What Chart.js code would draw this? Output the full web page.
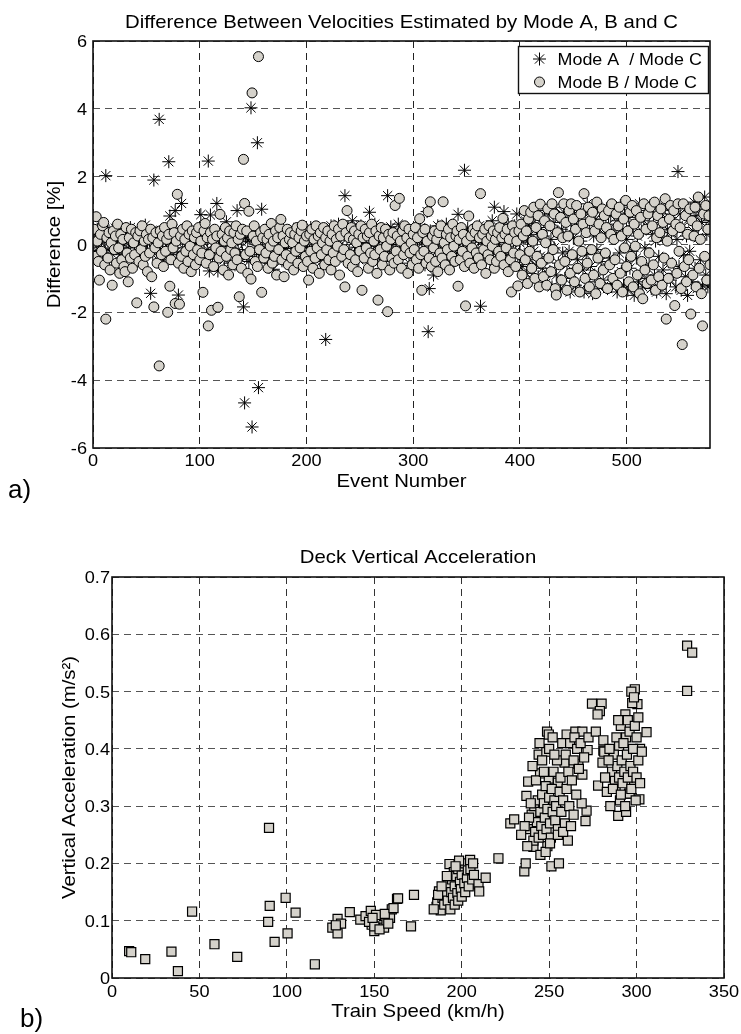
<!DOCTYPE html>
<html>
<head>
<meta charset="utf-8">
<title>Velocity differences and deck acceleration</title>
<script src="https://cdn.jsdelivr.net/npm/chart.js@4/dist/chart.umd.min.js"></script>
<style>
  html, body { margin: 0; padding: 0; background: #fff; }
  #wrap { position: relative; width: 741px; height: 1034px; overflow: hidden; }
  canvas { position: absolute; left: 0; }
  #cA { top: 0; }
  #cB { top: 520px; }
</style>
</head>
<body>
<div id="wrap">
  <canvas id="cA" width="741" height="520"></canvas>
  <canvas id="cB" width="741" height="514"></canvas>
</div>
<script>
// ---------- a) velocity differences per event (%), events 1..578 ----------
const ratioAC = [
  0.30,0.12,-0.18,0.45,0.22,-0.08,0.35,0.05,-0.28,0.50,0.15,2.03,0.25,-0.15,0.40,0.10,-0.25,0.30,0.02,0.20,
  0.48,-0.12,0.18,0.35,-0.30,0.08,0.42,0.15,-0.20,0.28,0.05,0.38,-0.10,0.22,0.50,-0.35,0.12,0.30,0.00,0.25,
  0.15,-0.22,0.40,0.10,-0.05,0.33,-0.40,0.20,0.57,0.05,-0.18,0.30,0.12,-1.44,0.25,-0.30,1.90,0.08,0.35,-0.12,
  0.20,3.69,-0.25,0.42,0.10,-0.45,0.28,0.05,-0.15,0.38,2.44,0.84,0.18,-0.30,0.45,0.02,1.00,-0.20,0.30,-1.49,
  0.25,0.40,1.21,-0.10,0.32,0.15,-0.35,0.22,0.05,0.38,-0.18,0.28,0.10,-0.42,0.35,0.00,0.20,-0.25,0.30,0.12,
  0.88,-0.30,0.18,0.05,-0.50,0.25,-0.15,2.46,-0.78,0.87,0.10,-0.40,0.30,-0.10,0.20,1.21,-0.78,0.15,-0.25,0.35,
  -0.05,0.22,-0.45,0.10,0.67,-0.20,0.30,-0.55,0.05,0.25,-0.30,0.15,-0.60,0.20,1.00,-0.15,0.28,-0.40,0.08,-0.25,
  -1.84,-4.67,0.20,-0.35,0.10,-0.50,0.30,4.03,-5.38,0.15,-0.20,0.40,-0.45,3.00,-4.22,0.05,-0.30,1.04,-0.10,0.25,
  -0.40,0.18,-0.15,0.30,-0.55,0.08,0.35,-0.25,-0.73,0.20,-0.05,0.42,-0.35,0.12,-0.20,0.30,-0.48,0.05,0.25,-0.12,
  0.38,-0.30,0.10,-0.45,0.22,0.00,-0.20,0.45,-0.35,0.15,-0.10,0.30,-0.55,0.05,0.25,-0.28,0.40,-0.05,0.18,-0.40,
  0.10,0.35,-0.22,0.50,-0.10,0.20,-0.42,0.30,0.05,-0.30,0.45,-0.15,0.25,-0.50,0.12,0.38,-0.20,-2.80,0.08,-0.35,
  0.30,-0.05,0.55,-0.28,0.15,-0.45,0.40,0.02,-0.18,0.60,-0.30,0.22,0.45,-0.12,0.35,1.44,-0.40,0.18,0.50,-0.20,
  0.28,-0.35,0.70,0.10,-0.25,0.42,-0.08,0.30,-0.45,0.15,0.55,-0.20,0.05,0.38,-0.30,0.20,-0.12,0.48,0.95,-0.38,
  0.12,0.35,-0.22,0.60,-0.05,0.25,-0.40,0.18,0.45,-0.15,0.30,-0.50,0.08,0.40,-0.25,1.44,0.15,-0.35,0.52,0.00,
  -0.20,0.35,0.10,-0.45,0.28,0.60,-0.12,0.20,-0.30,0.42,0.05,-0.25,0.38,-0.05,0.22,-0.55,0.30,0.12,-0.18,0.45,
  -0.30,0.15,0.35,-0.10,0.25,-0.42,0.50,0.05,-0.22,0.30,-0.60,0.18,0.97,-2.57,-1.30,0.40,-0.15,0.25,-0.90,0.10,
  0.35,-0.20,0.55,0.08,-0.35,0.30,-0.05,0.42,-0.28,0.15,0.60,-0.45,0.22,0.00,0.38,-0.18,0.28,-0.50,0.45,0.10,
  -0.25,0.89,0.20,-0.40,0.32,0.05,-0.15,2.19,0.25,-0.35,0.48,0.12,-0.22,0.30,-0.55,0.18,0.40,-0.08,0.25,-0.30,
  0.15,0.55,-1.82,0.20,-0.40,0.35,0.02,-0.25,0.45,-0.10,0.28,-0.48,0.38,0.70,-0.20,1.10,0.10,-0.35,0.30,0.05,
  -0.15,0.50,-0.40,0.25,0.97,-0.28,0.35,-0.05,0.60,-0.50,0.20,0.42,-0.30,0.10,0.55,-0.20,0.90,-0.60,0.30,0.05,
  0.45,-0.65,0.20,-0.30,0.70,-0.85,0.10,0.55,-0.45,0.30,-1.05,0.62,-0.20,0.85,-0.60,0.15,-0.95,0.40,-0.35,0.75,
  -0.70,0.25,1.00,-1.15,0.50,-0.40,0.90,-0.80,0.15,-1.25,0.65,-0.10,1.10,-0.90,0.35,-0.55,0.80,-1.30,0.45,-0.25,
  0.95,-1.00,0.30,-0.60,1.15,-0.20,-1.40,0.70,-0.85,0.20,1.05,-1.20,0.55,-0.45,0.85,-1.35,0.10,0.60,-0.75,-1.40,
  0.90,-0.30,1.20,-1.10,0.40,-0.65,1.00,-1.45,0.25,-0.90,0.75,-0.15,1.10,-1.25,0.50,-0.50,0.95,-1.05,0.30,-0.70,
  1.05,-1.30,0.60,-0.40,0.85,-1.15,0.20,1.00,-0.95,0.45,-1.40,0.70,-0.25,1.15,-0.80,0.35,-1.20,0.90,-0.55,0.15,
  -1.35,0.80,-0.70,1.10,-0.20,0.55,-1.50,0.95,-0.40,0.25,-1.10,1.20,-0.85,0.40,-1.25,0.70,-0.10,1.00,-1.00,0.50,
  -0.60,1.15,-1.30,0.30,0.85,-0.90,0.10,-1.40,1.05,-0.35,0.65,-1.20,0.90,-0.75,0.20,1.10,-1.45,0.45,-0.50,0.80,
  -1.05,0.35,1.00,-0.85,0.60,-1.25,0.15,2.15,-0.65,0.90,-1.35,0.50,-0.30,1.10,-0.95,0.25,-1.50,0.75,-0.20,1.05,
  -1.10,0.40,1.25,-0.70,0.85,-1.30,0.20,1.15,-0.45,0.65,-1.20,0.95,1.40,-0.90,0.30,-1.25,0.70,-0.35
];
const ratioBC = [
  0.45,-0.35,0.82,0.10,-0.50,-1.05,0.30,-0.20,0.55,0.65,-0.60,-2.20,0.20,-0.40,0.35,-0.75,0.05,-1.20,0.40,-0.15,
  0.25,-0.55,0.60,-0.10,-0.85,0.30,-0.45,0.15,-0.65,-0.80,0.50,-0.25,-1.10,0.20,-0.40,0.45,-0.70,0.05,-0.30,0.35,
  -1.72,0.25,-0.50,0.40,-0.15,0.55,-0.60,0.10,-0.35,0.30,-0.80,0.15,-0.25,0.45,-0.95,0.20,-1.84,-0.10,0.35,-0.55,
  0.05,-3.58,0.40,-0.30,0.25,-0.65,0.50,-0.20,0.15,-2.00,0.30,-1.23,-0.45,0.60,-0.10,0.35,-1.74,0.10,1.48,-0.55,
  -1.76,0.25,-0.35,0.45,-0.70,0.15,-0.20,0.55,-0.50,0.30,-0.05,-0.80,0.40,-0.30,0.20,-0.60,0.35,-0.15,0.50,-0.45,
  0.10,-0.25,-1.41,0.40,0.62,-0.55,0.20,-2.40,-0.30,0.35,-1.94,0.15,-0.65,0.45,-0.10,0.25,-1.85,-0.40,0.89,-0.20,
  0.30,-0.75,0.10,0.50,-0.35,0.20,-0.90,0.40,-0.15,0.05,-0.60,0.35,-0.25,0.55,-0.45,0.15,-1.54,0.30,-0.70,0.45,
  2.51,1.21,-0.30,0.40,-0.85,0.98,-0.20,-1.02,4.47,0.25,0.55,-0.50,0.10,-0.65,5.54,-0.15,0.35,-1.41,0.20,-0.40,
  0.45,-0.25,0.15,-0.70,0.30,-0.05,0.62,-0.55,0.10,-0.35,0.40,-0.90,0.20,-0.15,0.50,0.74,-0.45,0.25,-0.95,0.05,
  -0.30,0.45,-0.60,0.15,0.35,-0.40,0.05,-0.75,0.30,-0.20,0.50,-0.55,0.20,-0.10,0.40,0.57,-0.65,0.10,-0.35,0.25,
  -0.50,-1.05,0.30,-0.20,0.45,-0.70,0.15,-0.40,0.55,-0.10,0.25,-0.85,0.35,-0.30,0.05,0.50,-0.60,0.20,-0.15,0.40,
  -0.45,0.10,-0.75,0.30,-0.25,0.55,-0.50,0.15,-0.05,0.45,-0.90,0.25,-0.35,0.60,-0.15,-1.25,0.35,1.00,-0.55,0.20,
  -0.30,0.50,-0.65,0.15,0.40,-0.45,0.05,-0.80,0.30,-0.20,0.55,-1.35,0.20,-0.40,0.45,-0.10,0.25,-0.70,0.35,-0.25,
  0.60,-0.50,0.10,-0.30,0.40,-0.85,-1.64,0.25,-0.15,0.50,-0.60,0.20,-0.35,0.45,-0.05,-1.98,0.30,-0.75,0.15,-0.40,
  0.35,-0.55,1.15,-0.20,0.25,-0.45,1.36,0.10,-0.70,0.40,-0.30,0.55,-0.10,0.20,-0.85,0.45,-0.25,0.05,-0.60,0.30,
  -0.15,0.50,-0.45,0.20,-0.70,0.76,-0.30,-1.35,0.35,-0.20,0.45,-0.55,0.10,0.97,-0.40,1.26,-0.65,0.25,-0.10,0.40,
  -0.50,0.15,-0.80,0.35,-0.25,0.55,-0.40,1.26,0.05,-0.60,0.30,-0.15,0.45,-0.75,0.20,-0.35,0.60,-0.05,-0.50,0.25,
  0.40,-1.23,0.15,-0.45,0.50,-0.20,0.30,-0.65,-1.81,0.10,-0.35,0.84,-0.55,0.25,-0.10,0.45,-0.70,0.35,-0.25,0.55,
  -0.40,0.20,1.50,-0.60,0.30,-0.15,0.45,-0.85,0.10,-0.30,0.55,-0.45,0.25,-0.05,0.40,-0.70,0.15,-0.50,0.35,-0.20,
  0.50,-0.35,0.20,0.77,-0.60,0.30,-0.10,0.45,-0.80,0.15,-0.45,-1.40,0.55,-0.25,0.35,-0.65,0.10,-1.22,0.40,-0.30,
  0.60,-0.90,0.25,1.00,-0.45,0.40,-1.15,0.75,-0.20,0.95,-0.70,0.10,1.10,-1.00,0.50,-0.35,0.85,-1.25,1.19,-0.55,
  0.30,-0.95,0.70,0.05,-1.20,1.05,-0.40,0.55,-0.80,1.20,-0.15,0.90,-1.30,-1.49,0.35,1.53,-0.60,0.80,-1.05,0.20,
  1.20,-0.50,0.65,-1.35,0.25,1.00,-0.85,1.20,-0.30,0.75,-1.10,0.45,1.15,-0.70,0.10,-1.40,0.90,-0.20,0.60,1.50,
  -1.00,0.35,-0.55,1.10,-1.25,0.70,-0.15,0.95,-0.90,0.40,-1.45,1.25,-0.40,0.60,-1.15,0.20,1.05,-0.75,0.85,-0.25,
  0.50,-1.30,1.00,-0.60,0.30,1.20,-1.00,0.15,-0.45,0.90,-1.20,0.55,1.10,-0.85,0.25,-1.40,0.75,-0.10,1.30,-0.65,
  0.40,-1.10,0.95,-0.35,1.15,-1.25,0.60,-0.05,1.00,-0.90,0.30,-1.45,0.80,-0.50,-1.60,1.20,-0.75,0.45,-1.15,0.90,
  -0.25,1.10,-1.05,0.55,-0.60,1.25,-1.35,0.20,0.85,-0.95,0.35,1.05,-1.20,0.65,-0.40,1.35,-2.20,0.10,-1.00,0.75,
  1.15,-0.55,0.40,1.00,-1.80,0.60,-0.85,1.20,-0.20,0.50,-1.30,-2.95,1.20,-0.65,0.85,-1.10,0.30,-0.45,1.05,-2.05,
  0.70,-0.90,0.25,1.10,-1.25,0.55,1.40,-0.70,0.15,-1.45,-2.40,0.90,-0.35,1.15,-1.05,0.45,0.85,-0.60
];
const eventTicks = [0, 100, 200, 300, 400, 500];
const diffTicks = [-6, -4, -2, 0, 2, 4, 6];

// ---------- b) deck vertical acceleration against train speed ----------
const trainSpeed = [
  9.8, 11, 19, 34, 37.7, 45.8, 58.6, 71.6, 89.8, 90.2, 89.3, 93, 99.3, 100.4, 105, 116,
  126, 129, 131, 129, 128, 136, 142, 145, 148, 148.5, 150, 152, 154, 155.6, 155.6, 157, 159, 160, 163, 147,
  150, 151, 153, 156, 161, 163.6, 172.7, 171, 158, 149,
  185.6, 187, 186, 188, 189, 190, 190.5, 191, 192, 192, 193, 193.5, 194, 194.5, 195, 195.5, 196, 196, 197, 197.5,
  198, 198, 199, 199.5, 200, 200, 201, 201.5, 202, 202, 203, 203.5, 204, 204.8, 205, 206, 206.5, 207, 209.6, 210,
  213.7, 221, 184, 186.5, 188.5, 191.5, 198.5, 196.5,
  235.8, 236.6, 251.3, 255.6, 227.8, 230, 241, 241, 249, 260.7, 270.8, 271.4, 268.6, 237, 238, 244.8, 249.8, 255, 269, 244,
  248.4, 258.8, 266.7, 272, 248.8, 249.8, 260, 265, 269,
  239, 240, 241.5, 242, 243, 243.5, 244, 245, 245.5, 246, 246.5, 247, 247.5, 248, 248.5, 249, 250, 250.5, 251, 251.5,
  252, 252.5, 253, 253.5, 254, 254.5, 255, 256, 256.5, 257, 257.5, 258, 259, 259.5, 260, 261, 261.5, 262, 263, 264,
  264.5, 265.5, 266, 267, 268, 270, 272.5, 274.5, 242.5, 240.5, 244.5, 246, 250, 252, 253, 247, 239.5, 238.5, 236, 234,
  237.5, 245, 248, 250.5, 255, 258, 262.5, 264,
  280, 279, 277.7, 276.7, 281, 281, 305.7, 302, 290, 294, 281.5, 280.5, 278, 287.6, 298.6, 295.7, 289.5, 294, 301.6, 296,
  283, 299, 300.5, 293.6,
  286, 287, 288, 288.5, 289, 290, 290.5, 291, 291.5, 292, 292.5, 293, 293.5, 294.5, 295, 295, 296, 296.5, 297, 297.5,
  298, 298, 299, 299.5, 300, 300, 301, 301, 302, 303, 285, 284, 286.5, 289.5, 291, 297, 298.5, 282, 284.5,
  328.9, 331.8, 328.9
];
const deckAccel = [
  0.047, 0.045, 0.033, 0.046, 0.012, 0.116, 0.059, 0.037, 0.262, 0.126, 0.098, 0.063, 0.140, 0.078, 0.114, 0.024,
  0.088, 0.103, 0.095, 0.078, 0.092, 0.115, 0.102, 0.108, 0.117, 0.093, 0.082, 0.102, 0.098, 0.108, 0.088, 0.100, 0.105, 0.120, 0.138, 0.098,
  0.090, 0.110, 0.085, 0.112, 0.122, 0.139, 0.145, 0.090, 0.095, 0.105,
  0.124, 0.151, 0.132, 0.118, 0.140, 0.128, 0.155, 0.145, 0.135, 0.165, 0.199, 0.120, 0.150, 0.172, 0.140, 0.185, 0.128, 0.160, 0.178, 0.148,
  0.190, 0.135, 0.168, 0.155, 0.180, 0.142, 0.195, 0.165, 0.200, 0.150, 0.175, 0.188, 0.160, 0.206, 0.190, 0.172, 0.200, 0.180, 0.164, 0.151,
  0.175, 0.209, 0.120, 0.145, 0.160, 0.178, 0.205, 0.195,
  0.186, 0.200, 0.195, 0.200, 0.270, 0.277, 0.229, 0.240, 0.230, 0.240, 0.274, 0.292, 0.305, 0.318, 0.343, 0.357, 0.348, 0.341, 0.355, 0.390,
  0.395, 0.376, 0.374, 0.398, 0.430, 0.425, 0.425, 0.430, 0.430,
  0.260, 0.285, 0.300, 0.255, 0.272, 0.310, 0.245, 0.290, 0.265, 0.320, 0.250, 0.305, 0.280, 0.335, 0.260, 0.295, 0.315, 0.270, 0.245, 0.330,
  0.290, 0.360, 0.310, 0.275, 0.300, 0.380, 0.260, 0.325, 0.350, 0.290, 0.410, 0.310, 0.270, 0.390, 0.330, 0.360, 0.300, 0.410, 0.345, 0.380,
  0.420, 0.320, 0.400, 0.365, 0.410, 0.385, 0.420, 0.479, 0.345, 0.370, 0.410, 0.380, 0.400, 0.420, 0.390, 0.360, 0.305, 0.280, 0.265, 0.250,
  0.230, 0.215, 0.220, 0.235, 0.250, 0.255, 0.265, 0.285,
  0.479, 0.466, 0.460, 0.430, 0.415, 0.397, 0.429, 0.400, 0.405, 0.420, 0.395, 0.376, 0.336, 0.346, 0.345, 0.322, 0.283, 0.290, 0.312, 0.322,
  0.325, 0.504, 0.478, 0.460,
  0.360, 0.390, 0.330, 0.420, 0.370, 0.350, 0.310, 0.440, 0.380, 0.340, 0.410, 0.360, 0.300, 0.390, 0.450, 0.350, 0.430, 0.370, 0.330, 0.480,
  0.400, 0.360, 0.440, 0.310, 0.420, 0.350, 0.380, 0.455, 0.340, 0.395, 0.300, 0.380, 0.330, 0.450, 0.320, 0.500, 0.490, 0.350, 0.400,
  0.580, 0.568, 0.501
];
const speedTicks = [0, 50, 100, 150, 200, 250, 300, 350];
const accelTicks = [0, 0.1, 0.2, 0.3, 0.4, 0.5, 0.6, 0.7];

// ---------- shared styling ----------
const FONT = '"Liberation Sans", Arial, Helvetica, sans-serif';
const STRETCH = 1.1;      // slightly wide lettering
const TICK_PX = 16.5;
const LABEL_PX = 18.5;
const LEGEND_PX = 16.3;
const MARKER_FILL = '#d5d2cb';

function drawText(ctx, str, x, y, size, align, baseline, angle) {
  ctx.save();
  ctx.font = size + 'px ' + FONT;
  ctx.fillStyle = '#000';
  ctx.textAlign = align || 'left';
  ctx.textBaseline = baseline || 'alphabetic';
  ctx.translate(x, y);
  if (angle) ctx.rotate(angle);
  ctx.scale(STRETCH, 1);
  ctx.fillText(str, 0, 0);
  ctx.restore();
}

function drawMarker(ctx, ds, x, y) {
  ctx.save();
  ctx.fillStyle = ds.pointBackgroundColor;
  ctx.strokeStyle = ds.pointBorderColor;
  ctx.lineWidth = ds.pointBorderWidth;
  const opts = { pointStyle: ds.pointStyle, radius: ds.pointRadius, rotation: 0, borderWidth: ds.pointBorderWidth };
  if (Chart.helpers && Chart.helpers.drawPoint) {
    Chart.helpers.drawPoint(ctx, opts, x, y);
  } else {
    ctx.beginPath();
    ctx.arc(x, y, ds.pointRadius, 0, Math.PI * 2);
    ctx.fill(); ctx.stroke();
  }
  ctx.restore();
}

// Frame, tick labels, titles and legend drawn on top of each plot
function decorations(cfg) {
  return {
    id: 'decorations',
    afterDraw(chart) {
      const { ctx, chartArea: a } = chart;
      const xs = chart.scales.x, ys = chart.scales.y;

      ctx.save();
      ctx.strokeStyle = '#111';
      ctx.lineWidth = 1.6;
      ctx.strokeRect(a.left, a.top, a.right - a.left, a.bottom - a.top);
      ctx.restore();

      xs.ticks.forEach(t => drawText(ctx, String(t.value), xs.getPixelForValue(t.value), cfg.xTickBase, TICK_PX, 'center'));
      ys.ticks.forEach(t => drawText(ctx, String(t.value), a.left - cfg.yTickGap, ys.getPixelForValue(t.value) + 6, TICK_PX, 'right'));

      const cx = (a.left + a.right) / 2, cy = (a.top + a.bottom) / 2;
      drawText(ctx, cfg.title, cx, cfg.titleBase, LABEL_PX, 'center');
      drawText(ctx, cfg.xTitle, cx, cfg.xTitleBase, LABEL_PX, 'center');
      drawText(ctx, cfg.yTitle, cfg.yTitleX, cy, LABEL_PX, 'center', 'middle', -Math.PI / 2);

      ctx.save();
      ctx.font = '26px ' + FONT;
      ctx.fillStyle = '#000';
      ctx.fillText(cfg.panel, cfg.panelX, cfg.panelBase);
      ctx.restore();

      if (cfg.legend) {
        const L = cfg.legend;
        ctx.save();
        ctx.fillStyle = '#fff';
        ctx.fillRect(L.left, L.top, L.width, L.height);
        ctx.strokeStyle = '#111';
        ctx.lineWidth = 1.4;
        ctx.strokeRect(L.left, L.top, L.width, L.height);
        ctx.restore();
        chart.data.datasets.forEach((ds, i) => {
          const my = L.top + L.firstRow + i * L.rowGap;
          drawMarker(ctx, ds, L.left + L.markerDx, my);
          drawText(ctx, ds.label, L.left + L.textDx, my + 6, LEGEND_PX, 'left');
        });
      }
    }
  };
}

function axisOptions(min, max, tickValues, size, gridColor) {
  return {
    type: 'linear',
    min, max,
    afterBuildTicks: s => { s.ticks = tickValues.map(v => ({ value: v })); },
    afterFit: s => { if (s.isHorizontal()) s.height = size; else s.width = size; },
    ticks: { display: false },
    grid: { color: gridColor, lineWidth: 1, drawTicks: false },
    border: { display: false, dash: [7, 5] }
  };
}

const baseOptions = {
  responsive: false,
  devicePixelRatio: 1,
  animation: false,
  events: [],
  plugins: { legend: { display: false }, tooltip: { enabled: false }, title: { display: false } }
};

// ---------- chart a ----------
new Chart(document.getElementById('cA'), {
  type: 'scatter',
  data: {
    datasets: [
      {
        label: 'Mode A  / Mode C',
        data: ratioAC.map((v, i) => ({ x: i + 1, y: v })),
        pointStyle: 'star', pointRadius: 6.5,
        pointBackgroundColor: '#000', pointBorderColor: '#000', pointBorderWidth: 1,
        order: 1
      },
      {
        label: 'Mode B / Mode C',
        data: ratioBC.map((v, i) => ({ x: i + 1, y: v })),
        pointStyle: 'circle', pointRadius: 5,
        pointBackgroundColor: MARKER_FILL, pointBorderColor: '#000', pointBorderWidth: 1,
        order: 0
      }
    ]
  },
  options: Object.assign({}, baseOptions, {
    layout: { padding: { left: 0, top: 41, right: 31, bottom: 0 } },
    scales: {
      x: axisOptions(0, 578, eventTicks, 72, '#222'),
      y: axisOptions(-6, 6, diffTicks, 93, '#555')
    }
  }),
  plugins: [decorations({
    title: 'Difference Between Velocities Estimated by Mode A, B and C',
    titleBase: 28,
    xTitle: 'Event Number', xTitleBase: 487,
    yTitle: 'Difference [%]', yTitleX: 55,
    xTickBase: 466, yTickGap: 6,
    panel: 'a)', panelX: 8, panelBase: 498,
    legend: { left: 518.5, top: 46.5, width: 190, height: 47, firstRow: 12.5, rowGap: 23, markerDx: 21, textDx: 39 }
  })]
});

// ---------- chart b ----------
new Chart(document.getElementById('cB'), {
  type: 'scatter',
  data: {
    datasets: [{
      label: 'Deck acceleration',
      data: trainSpeed.map((s, i) => ({ x: s, y: deckAccel[i] })),
      pointStyle: 'rect', pointRadius: 6.4,
      pointBackgroundColor: MARKER_FILL, pointBorderColor: '#000', pointBorderWidth: 1.2
    }]
  },
  options: Object.assign({}, baseOptions, {
    layout: { padding: { left: 0, top: 57, right: 17, bottom: 0 } },
    scales: {
      x: axisOptions(0, 350, speedTicks, 56, '#333'),
      y: axisOptions(0, 0.7, accelTicks, 112, '#555')
    }
  }),
  plugins: [decorations({
    title: 'Deck Vertical Acceleration',
    titleBase: 43,
    xTitle: 'Train Speed (km/h)', xTitleBase: 497,
    yTitle: 'Vertical Acceleration (m/s\u00B2)', yTitleX: 70,
    xTickBase: 477, yTickGap: 2,
    panel: 'b)', panelX: 20, panelBase: 507
  })]
});
</script>
</body>
</html>
